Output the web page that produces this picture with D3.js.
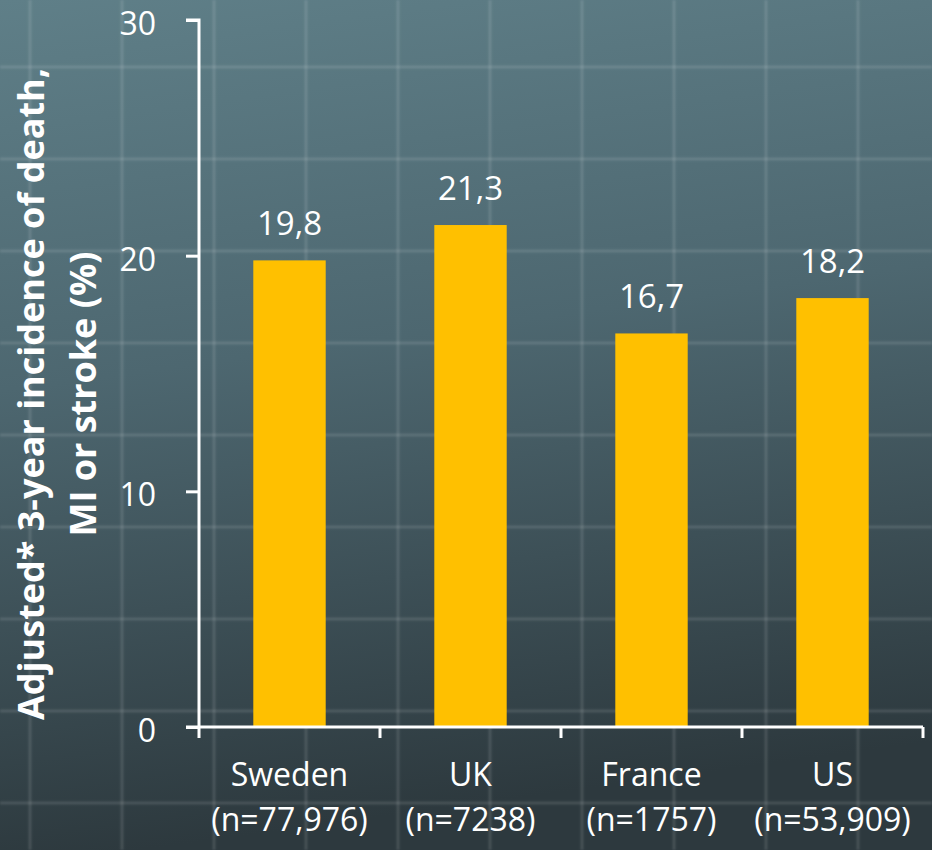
<!DOCTYPE html>
<html>
<head>
<meta charset="utf-8">
<script src="https://cdn.jsdelivr.net/npm/d3@7/dist/d3.min.js"></script>
<style>
  html, body { margin: 0; padding: 0; background: #2f3c42; }
  svg { display: block; }
</style>
</head>
<body>
<svg id="chart" width="932" height="850"></svg>
<script>
// Adjusted 3-year incidence of death, MI or stroke by country
const countries = ["Sweden", "UK", "France", "US"];
const sampleSizes = ["(n=77,976)", "(n=7238)", "(n=1757)", "(n=53,909)"];
const incidence = [19.8, 21.3, 16.7, 18.2];
const yTicks = [0, 10, 20, 30];
const titleLines = ["Adjusted* 3-year incidence of death,", "MI or stroke (%)"];

const W = 932, H = 850;
const svg = d3.select("#chart");
const defs = svg.append("defs");

// slate backdrop, lighter at the top
const bg = defs.append("linearGradient").attr("id", "bg")
  .attr("x1", 0).attr("y1", 0).attr("x2", 0.15).attr("y2", 1);
bg.append("stop").attr("offset", "0%").attr("stop-color", "#5f7f88");
bg.append("stop").attr("offset", "45%").attr("stop-color", "#4d6770");
bg.append("stop").attr("offset", "100%").attr("stop-color", "#2d393e");
svg.append("rect").attr("width", W).attr("height", H).attr("fill", "url(#bg)");

defs.append("filter").attr("id", "soft")
  .append("feGaussianBlur").attr("stdDeviation", 0.9);

// faint chalk grid behind the chart
const grid = svg.append("g").attr("filter", "url(#soft)")
  .attr("stroke", "rgba(255,255,255,0.14)").attr("stroke-width", 2.5);
d3.range(30, W, 92).forEach(x =>
  grid.append("line").attr("x1", x).attr("x2", x).attr("y1", 0).attr("y2", H));
d3.range(67, H, 92).forEach(y =>
  grid.append("line").attr("x1", 0).attr("x2", W).attr("y1", y).attr("y2", y));

const x0 = 199, x1 = 923, yBase = 727, yTop = 20;
const x = d3.scaleBand().domain(countries).range([x0, x1]).padding(0);
const y = d3.scaleLinear().domain([0, 30]).range([yBase, yTop]);
const barW = x.bandwidth() * 0.4;
const font = "'Open Sans', 'DejaVu Sans', sans-serif";

// bars
svg.append("g").selectAll("rect").data(countries).join("rect")
  .attr("x", d => x(d) + x.bandwidth() / 2 - barW / 2)
  .attr("width", barW)
  .attr("y", (d, i) => y(incidence[i]))
  .attr("height", (d, i) => yBase - y(incidence[i]))
  .attr("fill", "#ffc000");

// value labels with decimal comma
svg.append("g").selectAll("text").data(countries).join("text")
  .attr("x", d => x(d) + x.bandwidth() / 2)
  .attr("y", (d, i) => y(incidence[i]) - 25)
  .attr("text-anchor", "middle")
  .attr("fill", "#fff").attr("font-family", font).attr("font-size", 33)
  .text((d, i) => incidence[i].toFixed(1).replace(".", ","));

// y axis
const yAxis = svg.append("g").attr("transform", `translate(${x0},0)`)
  .call(d3.axisLeft(y).tickValues(yTicks).tickSize(13).tickPadding(30).tickFormat(d3.format("d")));
yAxis.select(".domain").attr("d", `M-13,${yTop}H0V${yBase}`);

// x axis
const xAxis = svg.append("g").attr("transform", `translate(0,${yBase})`);
xAxis.append("path").attr("d", `M${x0 - 13},0H${x1}`);
xAxis.selectAll("line").data(countries.map(c => x(c)).concat([x1])).join("line")
  .attr("x1", d => d).attr("x2", d => d).attr("y1", 0).attr("y2", 11);

svg.selectAll(".domain, .tick line").attr("stroke", "#fff").attr("stroke-width", 3);
xAxis.selectAll("path, line").attr("stroke", "#fff").attr("stroke-width", 3).attr("fill", "none");
yAxis.selectAll(".tick text").attr("fill", "#fff").attr("font-family", font)
  .attr("font-size", 32).attr("dy", "0.45em");

// category labels, two lines each
const cat = svg.append("g").selectAll("text").data(countries).join("text")
  .attr("text-anchor", "middle").attr("fill", "#fff")
  .attr("font-family", font).attr("font-size", 32);
cat.append("tspan").attr("x", d => x(d) + x.bandwidth() / 2).attr("y", 786).text(d => d);
cat.append("tspan").attr("x", d => x(d) + x.bandwidth() / 2).attr("y", 831).text((d, i) => sampleSizes[i]);

// rotated axis title
const title = svg.append("g").attr("transform", "translate(0,394) rotate(-90)");
title.selectAll("text").data(titleLines).join("text")
  .attr("x", 0).attr("y", (d, i) => [44, 96][i])
  .attr("text-anchor", "middle").attr("fill", "#fff")
  .attr("font-family", font).attr("font-weight", "bold").attr("font-size", 36)
  .text(d => d);
</script>
</body>
</html>
